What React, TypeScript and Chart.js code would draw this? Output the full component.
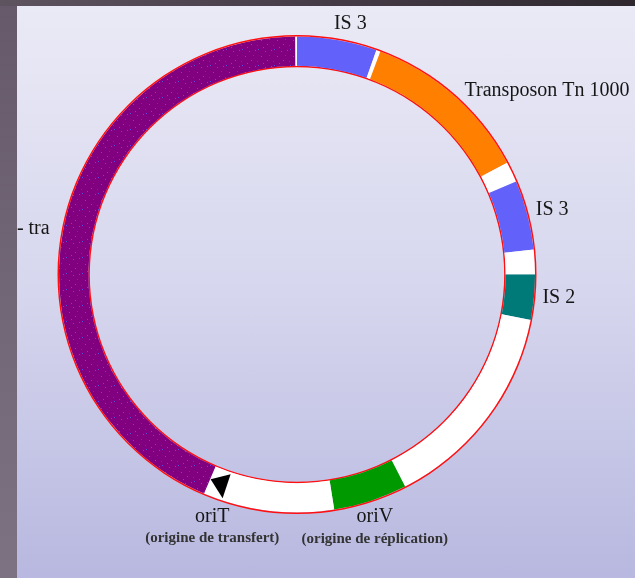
import { useEffect, useRef } from "react";
import { Chart, ArcElement, DoughnutController } from "chart.js";

Chart.register(ArcElement, DoughnutController);

// Plasmid map segments, clockwise from the top (map units, 360 = full circle)
const SEGMENT_NAMES = ["IS 3", "", "Transposon Tn 1000", "", "IS 3", "", "IS 2", "", "oriV", "", "tra", ""];
const SEGMENT_SIZES = [19.5, 1, 41.5, 5, 17, 6, 11, 52, 18, 32, 156.6, 0.4];
const SEGMENT_KINDS = ["is3", "gap", "tn", "gap", "is3", "gap", "is2", "gap", "ori", "gap", "tra", "gap"];
const MAP_TOTAL = 360;
const ORI_T_POSITION = 200;

// Labels: text, sub text, anchor position on the map
const LABEL_TEXTS = ["IS 3", "Transposon Tn 1000", "IS 3", "IS 2", "- tra", "oriV", "oriT"];
const LABEL_SUBS = ["", "", "", "", "", "(origine de réplication)", "(origine de transfert)"];
const LABEL_POSITIONS = [12, 42.4, 74.8, 95.3, 280.4, 162.2, 199.3];

// layout for labels (style only)
const LABEL_ALIGN: CanvasTextAlign[] = ["center", "left", "left", "left", "right", "center", "center"];
const LABEL_PAD = [17, 9, 8, 7, 12, 15, 17];

const COLORS: Record<string, string> = {
  is3: "#6262fa",
  gap: "#ffffff",
  tn: "#ff8000",
  is2: "#007a78",
  ori: "#009a00",
  tra: "#800080",
};

function makeTraPattern(): CanvasPattern | string {
  const c = document.createElement("canvas");
  c.width = 16;
  c.height = 16;
  const g = c.getContext("2d");
  if (!g) return COLORS.tra;
  g.fillStyle = COLORS.tra;
  g.fillRect(0, 0, 16, 16);
  const specks = [
    [2, 1, "#5a4ae6"], [9, 3, "#5a4ae6"], [13, 7, "#3d5a50"], [5, 8, "#5a4ae6"],
    [11, 12, "#5a4ae6"], [1, 13, "#3d5a50"], [7, 15, "#5a4ae6"], [15, 2, "#5a4ae6"],
  ];
  specks.forEach(([x, y, col]) => {
    g.fillStyle = col as string;
    g.fillRect(x as number, y as number, 1, 1);
  });
  const p = g.createPattern(c, "repeat");
  return p || COLORS.tra;
}

const mapPlugin = {
  id: "plasmidLabels",
  afterDatasetsDraw(chart: any) {
    const ctx: CanvasRenderingContext2D = chart.ctx;
    const outer = chart.getDatasetMeta(0).data[0];
    const main = chart.getDatasetMeta(1).data[0];
    if (!outer || !main) return;
    const cx = outer.x;
    const cy = outer.y;
    const R = outer.outerRadius;
    const toAngle = (pos: number) => (pos / MAP_TOTAL) * Math.PI * 2;

    // oriT marker (black triangle) inside the ring
    const a = toAngle(ORI_T_POSITION);
    const rMid = (main.innerRadius + main.outerRadius) / 2;
    const mx = cx + rMid * Math.sin(a);
    const my = cy - rMid * Math.cos(a);
    ctx.save();
    ctx.fillStyle = "#000";
    ctx.beginPath();
    ctx.moveTo(mx - 10, my - 5);
    ctx.lineTo(mx + 10, my - 10);
    ctx.lineTo(mx + 2, my + 14);
    ctx.closePath();
    ctx.fill();
    ctx.restore();

    ctx.save();
    ctx.fillStyle = "#161616";
    ctx.textBaseline = "middle";
    LABEL_TEXTS.forEach((t, i) => {
      const ang = toAngle(LABEL_POSITIONS[i]);
      const r = R + LABEL_PAD[i];
      const x = cx + r * Math.sin(ang);
      const y = cy - r * Math.cos(ang);
      ctx.textAlign = LABEL_ALIGN[i];
      ctx.font = "20px 'Liberation Serif', serif";
      ctx.fillText(t, x, y);
      if (LABEL_SUBS[i]) {
        ctx.font = "bold 15px 'Liberation Serif', serif";
        ctx.fillStyle = "#333";
        ctx.fillText(LABEL_SUBS[i], x, y + 22);
        ctx.fillStyle = "#161616";
      }
    });
    ctx.restore();
  },
};

export default function App() {
  const ref = useRef<HTMLCanvasElement | null>(null);

  useEffect(() => {
    if (!ref.current) return;
    const traFill = makeTraPattern();
    const colors = SEGMENT_KINDS.map((k) => (k === "tra" ? traFill : COLORS[k]));
    const chart = new Chart(ref.current, {
      type: "doughnut",
      data: {
        labels: SEGMENT_NAMES,
        datasets: [
          { data: [MAP_TOTAL], backgroundColor: ["#ff1010"], borderWidth: 0, weight: 0.05 } as any,
          { data: SEGMENT_SIZES, backgroundColor: colors as any, borderWidth: 0, weight: 1 } as any,
          { data: [MAP_TOTAL], backgroundColor: ["#ff1010"], borderWidth: 0, weight: 0.05 } as any,
        ],
      },
      options: {
        responsive: false,
        animation: false,
        cutout: "86.5%",
        events: [],
        layout: { padding: { left: 57, right: 98, top: 35, bottom: 64 } },
        plugins: { legend: { display: false }, tooltip: { enabled: false } },
      } as any,
      plugins: [mapPlugin],
    });
    return () => chart.destroy();
  }, []);

  return (
    <div style={{ position: "absolute", left: 0, top: 0, width: 635, height: 578, overflow: "hidden", background: "linear-gradient(180deg, #665a6a 0%, #7c7282 100%)" }}>
      <div style={{ position: "absolute", left: 0, top: 0, width: 635, height: 6, background: "linear-gradient(90deg, #5e5460 0%, #463c48 50%, #2e282e 100%)" }} />
      <div style={{ position: "absolute", left: 17, top: 6, right: 0, bottom: 0, background: "linear-gradient(180deg, #eaeaf6 0%, #d6d6ee 50%, #b8b8e0 100%)" }} />
      <canvas ref={ref} width={635} height={578} style={{ position: "absolute", left: 0, top: 0, width: 635, height: 578 }} />
    </div>
  );
}
